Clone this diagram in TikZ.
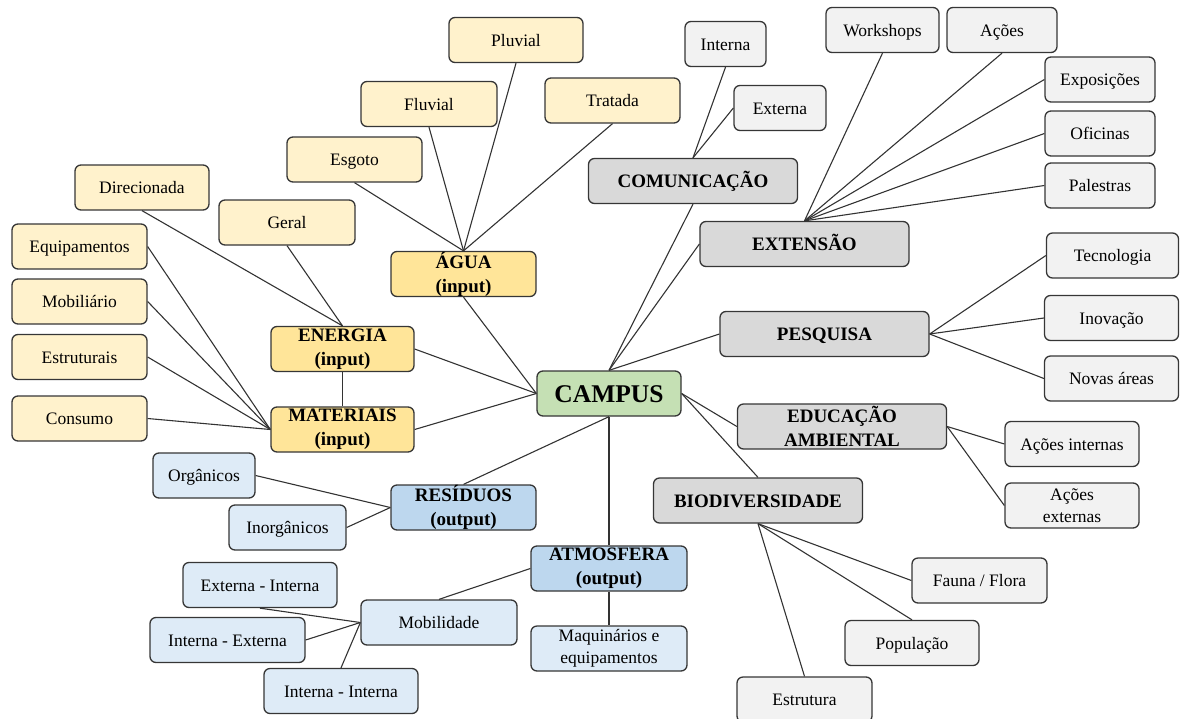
\documentclass[tikz,border=0pt]{standalone}
\usepackage{fontspec}
\setmainfont{Liberation Serif}
\definecolor{yellowL}{HTML}{FFF2CC}
\definecolor{yellowD}{HTML}{FFE599}
\definecolor{greenC}{HTML}{C5E0B4}
\definecolor{grayD}{HTML}{D9D9D9}
\definecolor{grayL}{HTML}{F2F2F2}
\definecolor{blueD}{HTML}{BDD7EE}
\definecolor{blueL}{HTML}{DEEBF7}
\definecolor{edgeC}{HTML}{363636}
\begin{document}
\begin{tikzpicture}[x=1pt,y=-1pt,
  box/.style={draw=edgeC, line width=1.3pt, rounded corners=6pt, inner sep=0pt,
    align=center, minimum height=45pt, text height=12pt, text depth=0pt,
    font=\fontsize{17.5}{21.7}\selectfont},
  head/.style={box, text height=13pt, font=\fontsize{19}{24}\selectfont\bfseries},
  twoline/.style={text height={}, text depth={}},
  leafY/.style={box, fill=yellowL},
  headY/.style={head, fill=yellowD},
  leafG/.style={box, fill=grayL},
  headG/.style={head, fill=grayD, minimum width=209pt},
  leafB/.style={box, fill=blueL},
  headB/.style={head, fill=blueD},
  link/.style={draw=black!80, line width=1.1pt}
]
\useasboundingbox (0,0) rectangle (1180,718);
\clip (0,0) rectangle (1180,718);

% centre
\node[box, fill=greenC, minimum width=144pt, text height=17pt,
  font=\fontsize{25.5}{28}\selectfont\bfseries] (campus) at (609,393.5) {CAMPUS};

% water
\node[headY, twoline, minimum width=145pt] (agua) at (463.5,274) {ÁGUA\\(input)};
\node[leafY, minimum width=134pt] (pluvial) at (516,40) {Pluvial};
\node[leafY, minimum width=136pt] (fluvial) at (429,104) {Fluvial};
\node[leafY, minimum width=135pt] (tratada) at (612.5,100.5) {Tratada};
\node[leafY, minimum width=135pt] (esgoto) at (354.5,159.5) {Esgoto};

% energy and materials
\node[headY, twoline, minimum width=143pt] (energia) at (342.5,349) {ENERGIA\\(input)};
\node[headY, twoline, minimum width=143pt] (materiais) at (342.5,429.5) {MATERIAIS\\(input)};
\node[leafY, minimum width=136pt] (geral) at (287,222.5) {Geral};
\node[leafY, minimum width=134pt] (direcionada) at (142,187.5) {Direcionada};
\node[leafY, minimum width=135pt] (equipamentos) at (79.5,246.5) {Equipamentos};
\node[leafY, minimum width=135pt] (mobiliario) at (79.5,301.5) {Mobiliário};
\node[leafY, minimum width=135pt] (estruturais) at (79.5,357) {Estruturais};
\node[leafY, minimum width=135pt] (consumo) at (79.5,418.5) {Consumo};

% communication and extension
\node[headG] (comunicacao) at (693,181) {COMUNICAÇÃO};
\node[leafG, minimum width=81pt] (interna) at (725.5,44) {Interna};
\node[leafG, minimum width=92pt] (externa) at (780,108) {Externa};
\node[headG] (extensao) at (804.5,244) {EXTENSÃO};
\node[leafG, minimum width=113pt] (workshops) at (882.5,30) {Workshops};
\node[leafG, minimum width=110pt] (acoes) at (1002,30) {Ações};
\node[leafG, minimum width=110pt] (exposicoes) at (1100,79.5) {Exposições};
\node[leafG, minimum width=110pt] (oficinas) at (1100,133.5) {Oficinas};
\node[leafG, minimum width=110pt] (palestras) at (1100,185.5) {Palestras};

% research
\node[headG] (pesquisa) at (824.5,334) {PESQUISA};
\node[leafG, minimum width=132pt] (tecnologia) at (1112.5,255.5) {Tecnologia};
\node[leafG, minimum width=134pt] (inovacao) at (1111.5,318) {Inovação};
\node[leafG, minimum width=134pt] (novas) at (1111.5,378.5) {Novas áreas};

% environmental education
\node[headG, twoline] (educacao) at (842,426.5) {EDUCAÇÃO\\AMBIENTAL};
\node[leafG, minimum width=134pt] (acoesint) at (1072,444) {Ações internas};
\node[leafG, twoline, minimum width=134pt] (acoesext) at (1072,505.5) {Ações\\externas};

% biodiversity
\node[headG] (biodiv) at (758,500.5) {BIODIVERSIDADE};
\node[leafG, minimum width=135pt] (fauna) at (979.5,580.5) {Fauna / Flora};
\node[leafG, minimum width=134pt] (populacao) at (912,643) {População};
\node[leafG, minimum width=135pt] (estrutura) at (804.5,699.5) {Estrutura};

% waste and atmosphere
\node[headB, twoline, minimum width=145pt] (residuos) at (463.5,507.5) {RESÍDUOS\\(output)};
\node[headB, twoline, minimum width=156pt] (atmosfera) at (609,568.5) {ATMOSFERA\\(output)};
\node[leafB, minimum width=102pt] (organicos) at (204,475.5) {Orgânicos};
\node[leafB, minimum width=117pt] (inorganicos) at (287.5,527.5) {Inorgânicos};
\node[leafB, minimum width=156pt] (mobilidade) at (439,622.5) {Mobilidade};
\node[leafB, minimum width=154pt] (extint) at (260,585) {Externa - Interna};
\node[leafB, minimum width=155pt] (intext) at (227.5,640) {Interna - Externa};
\node[leafB, minimum width=154pt] (intint) at (341,691) {Interna - Interna};
\node[leafB, twoline, minimum width=156pt] (maquinarios) at (609,648.5) {Maquinários e\\equipamentos};

% connectors
\draw[link] (campus.west) -- (agua.south);
\draw[link] (campus.west) -- (energia.east);
\draw[link] (campus.west) -- (materiais.east);
\draw[link] (campus.north) -- (comunicacao.south);
\draw[link] (campus.north) -- (extensao.west);
\draw[link] (campus.north) -- (pesquisa.west);
\draw[link] (campus.east) -- (educacao.west);
\draw[link] (campus.east) -- (biodiv.north);
\draw[link] (campus.south) -- (residuos.north);
\draw[link] (campus.south) -- (atmosfera.north);

\foreach \n in {esgoto,fluvial,pluvial,tratada}
  \draw[link] (agua.north) -- (\n.south);
\foreach \n in {direcionada,geral}
  \draw[link] (energia.north) -- (\n.south);
\draw[link] (energia.south) -- (materiais.north);
\foreach \n in {equipamentos,mobiliario,estruturais,consumo}
  \draw[link] (materiais.west) -- (\n.east);

\draw[link] (comunicacao.north) -- (interna.south);
\draw[link] (comunicacao.north) -- (externa.west);
\foreach \n in {workshops,acoes}
  \draw[link] (extensao.north) -- (\n.south);
\foreach \n in {exposicoes,oficinas,palestras}
  \draw[link] (extensao.north) -- (\n.west);
\foreach \n in {tecnologia,inovacao,novas}
  \draw[link] (pesquisa.east) -- (\n.west);
\foreach \n in {acoesint,acoesext}
  \draw[link] (educacao.east) -- (\n.west);
\draw[link] (biodiv.south) -- (fauna.west);
\draw[link] (biodiv.south) -- (populacao.north);
\draw[link] (biodiv.south) -- (estrutura.north);

\foreach \n in {organicos,inorganicos}
  \draw[link] (residuos.west) -- (\n.east);
\draw[link] (atmosfera.west) -- (mobilidade.north);
\draw[link] (atmosfera.south) -- (maquinarios.north);
\draw[link] (mobilidade.west) -- (extint.south);
\draw[link] (mobilidade.west) -- (intext.east);
\draw[link] (mobilidade.west) -- (intint.north);
\end{tikzpicture}
\end{document}
